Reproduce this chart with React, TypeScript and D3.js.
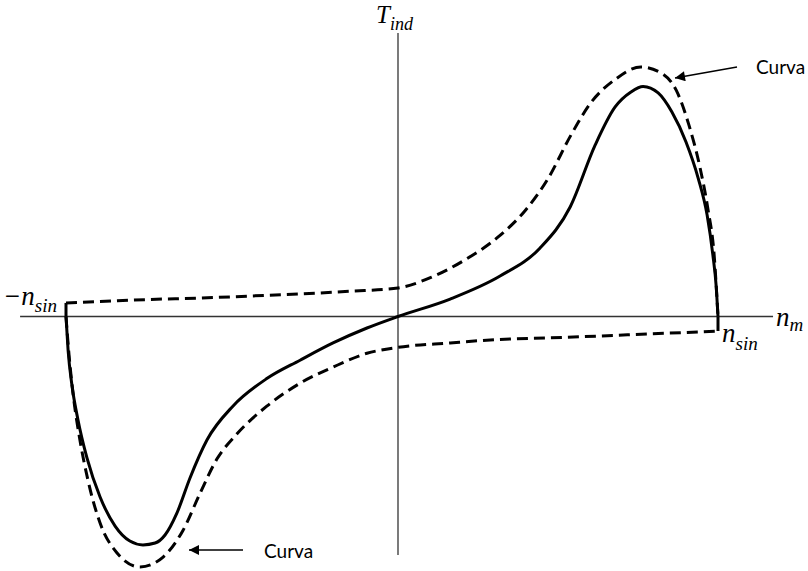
import React from "react";
import * as d3 from "d3";

// speed (fraction of n_sin) and induced torque (fraction of solid peak)
const solidN = [
  -1.0375, -1.031, -1.019, -1.0, -0.972, -0.931, -0.884, -0.838, -0.797,
  -0.759, -0.728, -0.691, -0.65, -0.597, -0.516, -0.41, -0.306, -0.203, -0.097,
  0, 0.163, 0.319, 0.444, 0.538, 0.616, 0.678, 0.728, 0.766, 0.813, 0.856, 0.9,
  0.938, 0.966, 0.984, 0.994, 1.0,
];
const solidT = [
  0, -0.146, -0.298, -0.45, -0.615, -0.785, -0.911, -0.976, -0.993, -0.985,
  -0.95, -0.855, -0.702, -0.537, -0.39, -0.27, -0.19, -0.115, -0.05, 0, 0.076,
  0.176, 0.298, 0.476, 0.745, 0.91, 0.976, 1.0, 0.972, 0.889, 0.759, 0.602,
  0.441, 0.267, 0.137, 0,
];

const upperN = [
  -1.0375, -0.931, -0.775, -0.619, -0.463, -0.306, -0.15, 0, 0.103, 0.209,
  0.313, 0.397, 0.469, 0.541, 0.603, 0.678, 0.759, 0.822, 0.869, 0.909, 0.944,
  0.969, 0.988, 1.0,
];
const upperT = [
  0.059, 0.065, 0.074, 0.08, 0.089, 0.098, 0.11, 0.124, 0.17, 0.246, 0.346,
  0.46, 0.6, 0.79, 0.93, 1.03, 1.085, 1.059, 0.985, 0.833, 0.646, 0.463, 0.267,
  0,
];

const lowerN = [
  -1.0375, -1.028, -1.013, -0.994, -0.969, -0.931, -0.878, -0.806, -0.734,
  -0.672, -0.619, -0.566, -0.503, -0.41, -0.306, -0.203, -0.097, 0, 0.163,
  0.313, 0.469, 0.625, 0.78, 0.94, 1.0,
];
const lowerT = [
  0, -0.167, -0.363, -0.537, -0.711, -0.898, -1.028, -1.089, -1.046, -0.93,
  -0.77, -0.62, -0.51, -0.39, -0.29, -0.22, -0.16, -0.134, -0.115, -0.1,
  -0.093, -0.085, -0.076, -0.067, -0.063,
];

// short joins at the two synchronous-speed ends
const leftJoinN = [-1.0375, -1.0375];
const leftJoinT = [0, 0.059];
const rightJoinN = [1.0, 1.0];
const rightJoinT = [0, -0.063];

const W = 808;
const H = 571;

const x = d3.scaleLinear().domain([-1, 1]).range([78, 718]);
const y = d3.scaleLinear().domain([-1, 1]).range([546.5, 86.5]);

const pts = (ns: number[], ts: number[]) =>
  ns.map((n, i) => [n, ts[i]] as [number, number]);

const smooth = d3
  .line<[number, number]>()
  .x((d) => x(d[0]))
  .y((d) => y(d[1]))
  .curve(d3.curveMonotoneX);

const straight = d3
  .line<[number, number]>()
  .x((d) => x(d[0]))
  .y((d) => y(d[1]));

const serif = "'Liberation Serif', 'Times New Roman', serif";
const sans = "Lato, 'Open Sans', sans-serif";

export default function App() {
  return (
    <svg
      width={W}
      height={H}
      style={{ position: "absolute", left: 0, top: 0, background: "#fff" }}
    >
      <defs>
        <marker
          id="head"
          viewBox="0 0 10 10"
          refX="10"
          refY="5"
          markerWidth="13"
          markerHeight="10"
          markerUnits="userSpaceOnUse"
          orient="auto"
        >
          <path d="M0,0 L10,5 L0,10 Z" fill="#000" />
        </marker>
      </defs>

      {/* axes */}
      <line
        x1={x(-1.181)}
        x2={x(1.172)}
        y1={y(0)}
        y2={y(0)}
        stroke="#333"
        strokeWidth={1.3}
      />
      <line
        x1={x(0)}
        x2={x(0)}
        y1={y(1.233)}
        y2={y(-1.037)}
        stroke="#333"
        strokeWidth={1.3}
      />

      {/* curves */}
      <path
        d={straight(pts(leftJoinN, leftJoinT)) ?? ""}
        fill="none"
        stroke="#000"
        strokeWidth={3}
      />
      <path
        d={straight(pts(rightJoinN, rightJoinT)) ?? ""}
        fill="none"
        stroke="#000"
        strokeWidth={3}
      />
      <path
        d={smooth(pts(upperN, upperT)) ?? ""}
        fill="none"
        stroke="#000"
        strokeWidth={3}
        strokeDasharray="11,6"
      />
      <path
        d={smooth(pts(lowerN, lowerT)) ?? ""}
        fill="none"
        stroke="#000"
        strokeWidth={3}
        strokeDasharray="11,6"
      />
      <path
        d={smooth(pts(solidN, solidT)) ?? ""}
        fill="none"
        stroke="#000"
        strokeWidth={3}
      />

      {/* labels */}
      <text x={376} y={23} fontFamily={serif} fontStyle="italic" fontSize={25}>
        T
        <tspan fontSize={18} dy={7}>
          ind
        </tspan>
      </text>
      <text x={776} y={326} fontFamily={serif} fontStyle="italic" fontSize={27}>
        n
        <tspan fontSize={19} dy={5}>
          m
        </tspan>
      </text>
      <text x={722} y={342} fontFamily={serif} fontStyle="italic" fontSize={27}>
        n
        <tspan fontSize={19} dy={8}>
          sin
        </tspan>
      </text>
      <text x={3} y={305} fontFamily={serif} fontStyle="italic" fontSize={27}>
        −n
        <tspan fontSize={19} dy={7}>
          sin
        </tspan>
      </text>

      {/* annotations */}
      <line
        x1={737}
        y1={67}
        x2={675}
        y2={78}
        stroke="#000"
        strokeWidth={1.5}
        markerEnd="url(#head)"
      />
      <text x={756} y={74} fontFamily={sans} fontSize={19}>
        Curva
      </text>
      <line
        x1={243}
        y1={550}
        x2={189}
        y2={550}
        stroke="#000"
        strokeWidth={1.5}
        markerEnd="url(#head)"
      />
      <text x={264} y={558} fontFamily={sans} fontSize={19}>
        Curva
      </text>
    </svg>
  );
}
